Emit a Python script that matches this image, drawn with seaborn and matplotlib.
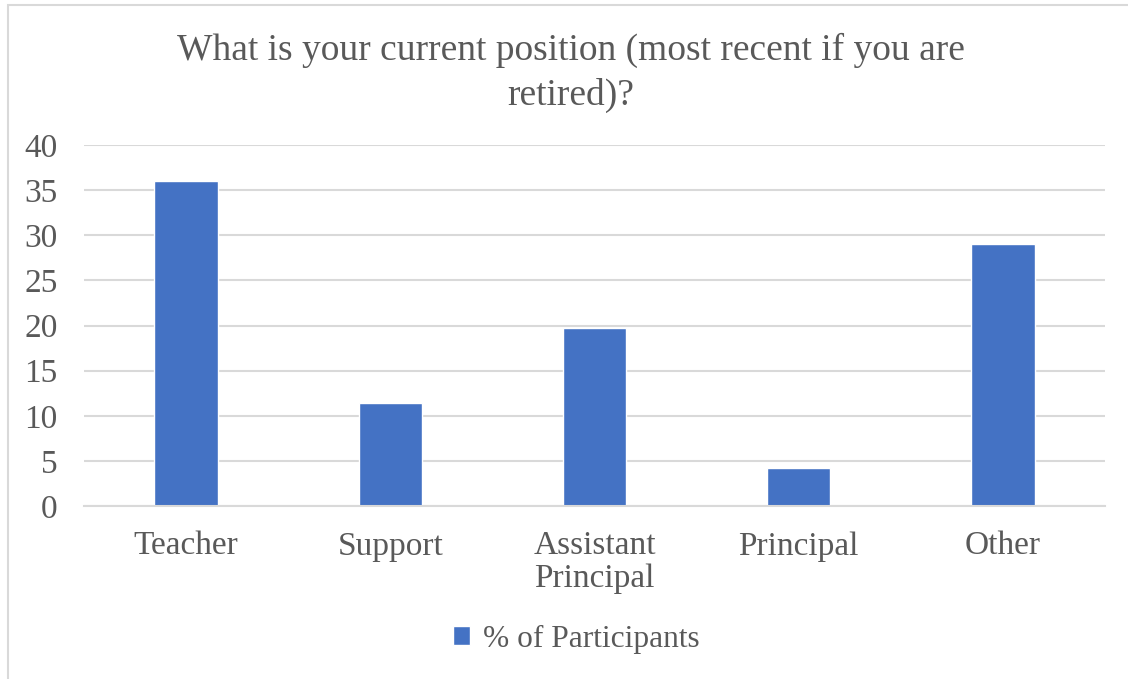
import matplotlib
matplotlib.use("Agg")
import matplotlib.pyplot as plt
from matplotlib.patches import Rectangle
import seaborn as sns
import pandas as pd

# Survey responses: share of participants by current position
positions = ["Teacher", "Support", "Assistant\nPrincipal", "Principal", "Other"]
percent = [36.0, 11.4, 19.7, 4.2, 29.0]
series_label = "% of Participants"
title = "What is your current position (most recent if you are\nretired)?"

df = pd.DataFrame({"position": positions, "percent": percent})

sns.set_theme(style="white")
plt.rcParams["font.family"] = ["Liberation Serif", "DejaVu Serif"]

text_color = "#595959"
grid_color = "#D9D9D9"
bar_color = "#4472C4"

W, H = 1128, 679
fig = plt.figure(figsize=(W / 100, H / 100), dpi=100)
ax = fig.add_axes([84 / W, 1 - 506 / H, (1105 - 84) / W, (506 - 145) / H])

sns.barplot(data=df, x="position", y="percent", color=bar_color, width=0.31,
            saturation=1, label=series_label, ax=ax)

ax.set_ylim(0, 40)
ax.set_yticks(range(0, 41, 5))
ax.set_xlabel("")
ax.set_ylabel("")
ax.yaxis.grid(True, color=grid_color, linewidth=1.5)
ax.set_axisbelow(True)
for side in ["top", "right", "left"]:
    ax.spines[side].set_visible(False)
ax.spines["bottom"].set_color(grid_color)
ax.spines["bottom"].set_linewidth(1.5)

ax.tick_params(axis="y", length=0, pad=19, labelsize=24, labelcolor=text_color)
ax.tick_params(axis="x", length=0, pad=18, labelsize=24, labelcolor=text_color)
for lbl in ax.get_xticklabels():
    lbl.set_linespacing(1.07)

fig.text(571 / W, 1 - 73 / H, title, ha="center", va="center",
         fontsize=27, color=text_color, linespacing=1.37)

ax.legend(loc="center", bbox_to_anchor=(576 / W, 1 - 639 / H),
          bbox_transform=fig.transFigure, frameon=False, fontsize=22.6,
          labelcolor=text_color, handlelength=0.55, handleheight=0.55,
          handletextpad=0.4)

# Chart-area border
fig.patches.append(Rectangle((8 / W, -0.01), 1.02, 1 - 5 / H + 0.01,
                             transform=fig.transFigure, fill=False,
                             edgecolor=grid_color, linewidth=1.5))

fig.savefig("out.png", dpi=100, facecolor="white")
